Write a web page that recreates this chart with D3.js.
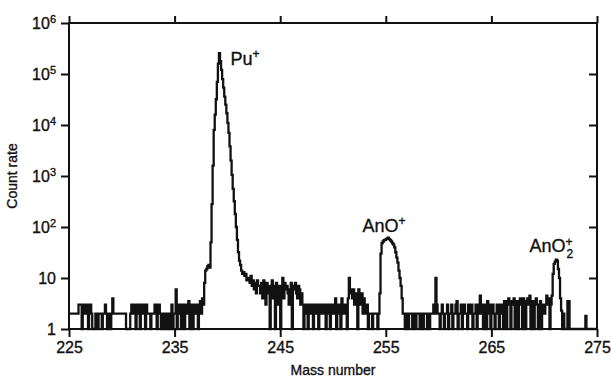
<!DOCTYPE html>
<html>
<head>
<meta charset="utf-8">
<script src="https://cdnjs.cloudflare.com/ajax/libs/d3/7.8.5/d3.min.js"></script>
<style>
  body { margin: 0; background: #fff; }
  svg { display: block; font-family: "Liberation Sans", Arial, Helvetica, sans-serif; }
  text { fill: #111; stroke: #111; stroke-width: 0.35px; }
</style>
</head>
<body>
<svg id="chart" width="611" height="381"></svg>
<script>
// mass axis: one reading every 0.1 mass unit starting at 225
var massStart = 225;
var massStep = 0.1;

// count rate, one row per mass unit (225.0 ... 225.9 etc)
var counts = [
  2,2,2,2,2,2,2,2,2,3,
  3,3,1,3,3,2,3,3,1,3,
  3,2,1,1,1,2,2,1,2,2,
  2,1,2,2,3,2,1,2,2,1,
  2,4,2,2,2,2,2,2,2,2,
  2,2,2,2,1,1,1,1,2,3,
  2,3,3,1,3,2,3,1,3,3,
  2,3,1,3,2,2,2,1,2,2,
  2,3,2,1,3,3,2,1,1,2,
  1,1,2,1,2,2,1,3,1,2,
  2,6,1,3,2,3,1,2,3,1,
  3,2,3,3.5,1,2,3,1,2,3,
  2,3,1,3,3.5,2,4,3,8,14,
  15,17,18,16,50,280,1600,8000,16000,32000,
  70000,160000,257000,178000,120000,79000,54000,36000,25000,17000,
  11000,7000,3800,2000,1050,560,320,180,100,56,
  32,22,18,14,12,13,11,12,9,10,
  10,8,11,7,9,6,8,5,9,7,
  7,5,8,4,9,6,3,8,5,7,
  1,6,9,4,7,1,8,5,3,7,
  1,6,10,4,8,6,7,5,3,6,
  8,1,7,6,8,5,4,7,6,3,
  5,3,1,3,2,3,1,3,3,2,
  3,1,3,2,3,3,1,3,2,3,
  2,3,3,1,3,2,3,1,3,3,
  2,3,4,1,3,2,3,1,4,3,
  2,3,3,1,4,10,5,6,4,6,
  3,5,4,1,6,5,3,5,2,4,
  3,2,3,1,2,2,2,1,2,2,
  2,2,1,2,5,30,48,52,55,56,
  58,60,62,58,55,52,48,45,40,32,
  25,20,14,10,7,4,2,2,1,2,
  2,1,2,2,2,1,2,2,1,2,
  2,2,1,2,2,1,2,2,2,1,
  2,1,2,2,2,3,2,10,3,2,
  2,1,2,3,2,1,2,2,3,1,
  2,2,3,1,2,2,3,3.5,1,2,
  2,3,1,2,3,2,2,1,3,2,
  2,3,1,2,2,3,1,3,2,4.5,
  2,3,1,2,3,1,3.5,2,3,1,
  2,3,2,1,2,3,2,1,3,2,
  3,1,3.5,3,1,3.5,4,3,1,3.5,
  3,4,1,3.5,3,1,3.5,4,3,1,
  4,3.5,1,3,4,3,4.5,1,3.5,3,
  1,3.5,4,3,1,3,3.5,1,3,3,
  2,3,4.5,3,4,1,3,4.5,12,19,
  21,23,22,15,10,4,2.3,1,2,1,
  1,1,3.5,3.5,1,1,1,1,1,1,
  1,1,1,1,1,1,1,1,1,1.8,
  1,1,1,1,1,1,1,1,1,1,
  1
];

var xTicks = [225, 235, 245, 255, 265, 275];
var yTicks = [1, 10, 100, 1000, 10000, 100000, 1000000];
var yTickExp = ["", "", "2", "3", "4", "5", "6"];

var peakLabels = [
  {text: "Pu", sup: "+", sub: "", mass: 240.3, count: 150000},
  {text: "AnO", sup: "+", sub: "", mass: 252.8, count: 80},
  {text: "AnO", sup: "+", sub: "2", mass: 268.6, count: 32}
];

//////////////////////////////////////////////////////////////////////////////

var svgSize = {width: 611, height: 381, margin: {top: 23, right: 14, bottom: 52, left: 69}};
svgSize.innerW = svgSize.width - svgSize.margin.left - svgSize.margin.right;
svgSize.innerH = svgSize.height - svgSize.margin.top - svgSize.margin.bottom;

var svg = d3.select("#chart")
  .append("g")
  .attr("transform", "translate(" + svgSize.margin.left + "," + svgSize.margin.top + ")");

drawSpectrum(svg, svgSize);

function drawSpectrum(svg, svgSize) {
  var xScale = d3.scaleLinear()
    .domain([225, 275])
    .range([0, svgSize.innerW]);

  var yScale = d3.scaleLog()
    .domain([1, 1000000])
    .range([svgSize.innerH, 0]);

  var data = counts.map(function(c, i) {
    return {mass: massStart + i * massStep, count: c};
  });

  var line = d3.line()
    .curve(d3.curveStepAfter)
    .x(function(d) { return xScale(d.mass); })
    .y(function(d) { return yScale(d.count); });

  svg.append("path")
    .datum(data)
    .attr("d", line)
    .attr("fill", "none")
    .attr("stroke", "#111")
    .attr("stroke-width", 2.3)
    .attr("stroke-linejoin", "miter");

  // frame
  svg.append("rect")
    .attr("width", svgSize.innerW)
    .attr("height", svgSize.innerH)
    .attr("fill", "none")
    .attr("stroke", "#111")
    .attr("stroke-width", 2);

  // bottom axis, ticks out
  var bottom = svg.append("g")
    .attr("transform", "translate(0," + svgSize.innerH + ")")
    .call(d3.axisBottom(xScale).tickValues(xTicks).tickSize(8).tickPadding(5));
  bottom.select(".domain").remove();
  bottom.selectAll("line").attr("stroke", "#111").attr("stroke-width", 2);
  bottom.selectAll("text")
    .style("font-size", "16px")
    .attr("fill", "#111");

  // top axis, ticks out, no labels
  var top = svg.append("g")
    .call(d3.axisTop(xScale).tickValues(xTicks).tickSize(7).tickFormat(""));
  top.select(".domain").remove();
  top.selectAll("line").attr("stroke", "#111").attr("stroke-width", 2);

  // left axis, ticks out
  var left = svg.append("g")
    .call(d3.axisLeft(yScale).tickValues(yTicks).tickSize(8).tickFormat(""));
  left.select(".domain").remove();
  left.selectAll("line").attr("stroke", "#111").attr("stroke-width", 2);

  var yLab = left.selectAll(".tick")
    .append("text")
    .attr("x", -13)
    .attr("dy", "0.35em")
    .attr("text-anchor", "end")
    .style("font-size", "16px");
  yLab.each(function(d, i) {
    var t = d3.select(this);
    if (yTickExp[i] === "") {
      t.text(d);
    } else {
      t.append("tspan").text("10");
      t.append("tspan")
        .attr("dy", "-0.55em")
        .style("font-size", "11px")
        .text(yTickExp[i]);
    }
  });

  // right axis, ticks in
  var right = svg.append("g")
    .attr("transform", "translate(" + svgSize.innerW + ",0)")
    .call(d3.axisLeft(yScale).tickValues(yTicks.slice(1, 6)).tickSize(8).tickFormat(""));
  right.select(".domain").remove();
  right.selectAll("line").attr("stroke", "#111").attr("stroke-width", 2);

  // peak labels
  peakLabels.forEach(function(p) {
    var t = svg.append("text")
      .attr("x", xScale(p.mass))
      .attr("y", yScale(p.count))
      .style("font-size", "18px");
    t.append("tspan").text(p.text);
    if (p.sub !== "") {
      var sx = xScale(p.mass) + t.node().getComputedTextLength() + 1;
      t.append("tspan")
        .attr("dy", "-0.55em")
        .style("font-size", "12px")
        .text(p.sup);
      svg.append("text")
        .attr("x", sx)
        .attr("y", yScale(p.count) + 6)
        .style("font-size", "12px")
        .text(p.sub);
    } else {
      t.append("tspan")
        .attr("dy", "-0.55em")
        .style("font-size", "12px")
        .text(p.sup);
    }
  });

  // axis titles
  svg.append("text")
    .attr("x", svgSize.innerW / 2)
    .attr("y", svgSize.innerH + 46)
    .attr("text-anchor", "middle")
    .style("font-size", "14px")
    .text("Mass number");

  svg.append("text")
    .attr("transform", "rotate(-90)")
    .attr("x", 0 - (svgSize.innerH / 2))
    .attr("y", -52)
    .attr("text-anchor", "middle")
    .style("font-size", "14px")
    .text("Count rate");
}
</script>
</body>
</html>
